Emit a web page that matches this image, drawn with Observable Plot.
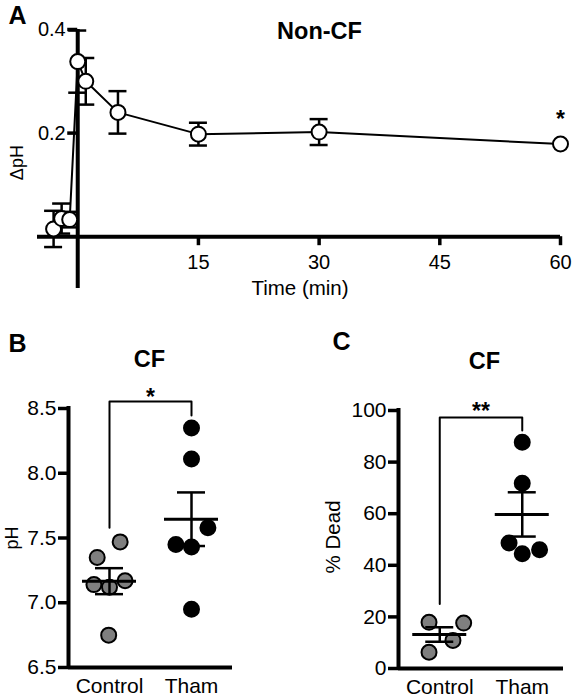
<!DOCTYPE html>
<html>
<head>
<meta charset="utf-8">
<script src="https://cdn.jsdelivr.net/npm/d3@7"></script>
<script src="https://cdn.jsdelivr.net/npm/@observablehq/plot@0.6"></script>
<style>
  body { margin: 0; background: #fff; }
  #wrap { position: relative; width: 572px; height: 697px; overflow: hidden; background: #fff; }
  .panel { position: absolute; }
</style>
</head>
<body>
<div id="wrap">
  <div id="pa" class="panel" style="left:0px;top:0px"></div>
  <div id="pb" class="panel" style="left:0px;top:310px"></div>
  <div id="pc" class="panel" style="left:286px;top:310px"></div>
</div>
<script>
// ---------- Panel A: Non-CF, ΔpH over time ----------
const timeMin    = [-3, -2, -1, 0, 1, 5, 15, 30, 60];
const deltaPH    = [0.015, 0.035, 0.033, 0.338, 0.300, 0.240, 0.198, 0.202, 0.179];
const deltaPHErr = [0.035, 0.029, 0.015, 0.060, 0.045, 0.041, 0.022, 0.025, 0];
const timeTicks  = [15, 30, 45, 60];
const deltaTicks = [0.2, 0.4];
const sigA = [{time: 60, label: "*"}];

// ---------- Panels B and C: CF, Control vs Tham ----------
const groups = ["Control", "Tham"];

const pHControl = [7.47, 7.35, 7.14, 7.12, 7.17, 6.75];
const pHTham    = [8.35, 8.11, 7.58, 7.45, 7.43, 6.95];
const pHControlSpread = [0.13, -0.15, -0.19, 0, 0.19, -0.01];
const pHThamSpread    = [0, 0, 0.2, -0.19, 0, 0];
const pHTicks = [6.5, 7.0, 7.5, 8.0, 8.5];
const pHBracket = [7.58, 8.555, 8.445];
const pHSig = "*";

const deadControl = [17.9, 17.6, 10.9, 6.3];
const deadTham    = [87.7, 71.8, 48.6, 46.0, 44.5];
const deadControlSpread = [-0.13, 0.29, 0.16, -0.13];
const deadThamSpread    = [0, 0, -0.16, 0.21, 0];
const deadTicks = [0, 20, 40, 60, 80, 100];
const deadBracket = [25.0, 97.3, 92.2];
const deadSig = "**";

const FONT = "'Liberation Sans', Arial, Helvetica, sans-serif";
const baseStyle = {fontFamily: FONT, background: "transparent", overflow: "visible", color: "#000"};

// ---------- Panel A ----------
{
  const W = 572, H = 310, ml = 37, mr = 12, mt = 29, mb = 22;
  const xDom = [-5, 60], yDom = [-0.1, 0.4];
  const sx = d3.scaleLinear(xDom, [ml, W - mr]);
  const sy = d3.scaleLinear(yDom, [H - mb, mt]);
  const rows = timeMin.map((t, i) => ({t, m: deltaPH[i], e: deltaPHErr[i]}));
  const withErr = rows.filter(d => d.e > 0);
  const sigRows = sigA.map(s => ({...s, m: rows.find(r => r.t === s.time).m}));

  const plot = Plot.plot({
    width: W, height: H, marginLeft: ml, marginRight: mr, marginTop: mt, marginBottom: mb,
    style: baseStyle,
    x: {domain: xDom}, y: {domain: yDom},
    marks: [
      Plot.ruleY([0], {stroke: "#000", strokeWidth: 4}),
      Plot.ruleX([0], {stroke: "#000", strokeWidth: 4}),
      Plot.axisX(timeTicks, {tickSize: 9, tickPadding: 9, dy: sy(0) - sy(yDom[0]), strokeWidth: 3.5, fontSize: 20, label: null}),
      Plot.axisY(deltaTicks, {tickSize: 10, tickPadding: 2, dx: sx(0) - sx(xDom[0]), strokeWidth: 3.5, fontSize: 20, label: null, tickFormat: d3.format(".1f")}),
      Plot.line(rows, {x: "t", y: "m", stroke: "#000", strokeWidth: 2}),
      Plot.ruleX(withErr, {x: "t", y1: d => d.m - d.e, y2: d => d.m + d.e, stroke: "#000", strokeWidth: 2.5}),
      Plot.ruleY(withErr, {y: d => d.m + d.e, x1: "t", x2: "t", insetLeft: -9, insetRight: -9, stroke: "#000", strokeWidth: 2.5}),
      Plot.ruleY(withErr, {y: d => d.m - d.e, x1: "t", x2: "t", insetLeft: -9, insetRight: -9, stroke: "#000", strokeWidth: 2.5}),
      Plot.dot(rows, {x: "t", y: "m", r: 7.5, fill: "#fff", stroke: "#000", strokeWidth: 2}),
      Plot.text(sigRows, {x: "time", y: "m", text: "label", dy: -24, fontSize: 23, fontWeight: "bold", lineAnchor: "middle"}),
      Plot.text(["Non-CF"], {frameAnchor: "top", dx: 20.5, dy: 2, fontSize: 23.5, fontWeight: "bold", textAnchor: "middle", lineAnchor: "middle"}),
      Plot.text(["A"], {frameAnchor: "top-left", dx: -20, dy: -14, fontSize: 25, fontWeight: 900, textAnchor: "middle", lineAnchor: "middle"}),
      Plot.text(["Time (min)"], {frameAnchor: "bottom", dx: 1, dy: 0.3, fontSize: 20.5, textAnchor: "middle", lineAnchor: "middle"}),
      Plot.text(["ΔpH"], {frameAnchor: "left", y: 0.143, dx: -20, rotate: -90, fontSize: 18, textAnchor: "middle", lineAnchor: "middle"})
    ]
  });
  document.getElementById("pa").appendChild(plot);
}

// ---------- Panels B and C ----------
function dotPanel(cfg) {
  const {values, spreads, fills, ticks, tickFormat, domain, bracket, sig, sigDy,
         yLabel, yLabelDx, yLabelY, yLabelSize, letter, letterDx, letterDy,
         title, titleDx, titleDy, W, H, ml, mr, mt, mb} = cfg;
  const xDom = [0.5, 2.5];
  const rows = groups.flatMap((g, gi) => values[gi].map((v, j) => ({g, v, x: gi + 1 + spreads[gi][j], fill: fills[gi]})));
  const stats = groups.map((g, gi) => {
    const vs = values[gi];
    const m = d3.mean(vs);
    const s = d3.deviation(vs) / Math.sqrt(vs.length);
    return {g, x: gi + 1, mean: m, lo: m - s, hi: m + s};
  });
  const bracketPts = [[1, bracket[0]], [1, bracket[1]], [2, bracket[1]], [2, bracket[2]]];
  return Plot.plot({
    width: W, height: H, marginLeft: ml, marginRight: mr, marginTop: mt, marginBottom: mb,
    style: baseStyle,
    x: {domain: xDom}, y: {domain: domain},
    marks: [
      Plot.ruleX([xDom[0]], {stroke: "#000", strokeWidth: 4, strokeLinecap: "square"}),
      Plot.ruleY([domain[0]], {stroke: "#000", strokeWidth: 4}),
      Plot.axisY(ticks, {tickSize: 10, tickPadding: 2, strokeWidth: 3.5, fontSize: 21, label: null, tickFormat}),
      Plot.axisX([1, 2], {tickSize: 0, tickPadding: 11, fontSize: 21, label: null, tickFormat: d => groups[d - 1]}),
      Plot.line(bracketPts, {x: d => d[0], y: d => d[1], stroke: "#000", strokeWidth: 2}),
      Plot.text([sig], {x: 1.5, y: bracket[1], dy: sigDy, fontSize: 23, fontWeight: "bold", lineAnchor: "middle"}),
      Plot.dot(rows, {x: "x", y: "v", r: 7.5, fill: "fill", stroke: "#000", strokeWidth: 2}),
      Plot.ruleY(stats, {y: "mean", x1: "x", x2: "x", insetLeft: -27, insetRight: -27, stroke: "#000", strokeWidth: 3}),
      Plot.ruleX(stats, {x: "x", y1: "lo", y2: "hi", stroke: "#000", strokeWidth: 2.5}),
      Plot.ruleY(stats, {y: "hi", x1: "x", x2: "x", insetLeft: -14, insetRight: -14, stroke: "#000", strokeWidth: 2.5}),
      Plot.ruleY(stats, {y: "lo", x1: "x", x2: "x", insetLeft: -14, insetRight: -14, stroke: "#000", strokeWidth: 2.5}),
      Plot.text([title], {frameAnchor: "top", dx: titleDx, dy: titleDy, fontSize: 23.5, fontWeight: "bold", textAnchor: "middle", lineAnchor: "middle"}),
      Plot.text([letter], {frameAnchor: "top-left", dx: letterDx, dy: letterDy, fontSize: 25, fontWeight: 900, textAnchor: "middle", lineAnchor: "middle"}),
      Plot.text([yLabel], {frameAnchor: "left", y: yLabelY, dx: yLabelDx, rotate: -90, fontSize: yLabelSize, textAnchor: "middle", lineAnchor: "middle"})
    ]
  });
}

document.getElementById("pb").appendChild(dotPanel({
  values: [pHControl, pHTham], spreads: [pHControlSpread, pHThamSpread], fills: ["#7f7f7f", "#000"],
  ticks: pHTicks, tickFormat: d3.format(".1f"), domain: [6.5, 8.5],
  bracket: pHBracket, sig: pHSig, sigDy: -4,
  yLabel: "pH", yLabelDx: -56, yLabelY: 7.5, yLabelSize: 18,
  letter: "B", letterDx: -51, letterDy: -64.5,
  title: "CF", titleDx: -1, titleDy: -48.6,
  W: 286, H: 387, ml: 68, mr: 54, mt: 98, mb: 30
}));

document.getElementById("pc").appendChild(dotPanel({
  values: [deadControl, deadTham], spreads: [deadControlSpread, deadThamSpread], fills: ["#7f7f7f", "#000"],
  ticks: deadTicks, tickFormat: d3.format("d"), domain: [0, 100],
  bracket: deadBracket, sig: deadSig, sigDy: -6,
  yLabel: "% Dead", yLabelDx: -65, yLabelY: 51, yLabelSize: 20.5,
  letter: "C", letterDx: -57, letterDy: -68.5,
  title: "CF", titleDx: 3.5, titleDy: -49.5,
  W: 286, H: 387, ml: 112, mr: 9, mt: 100, mb: 29
}));
</script>
</body>
</html>
